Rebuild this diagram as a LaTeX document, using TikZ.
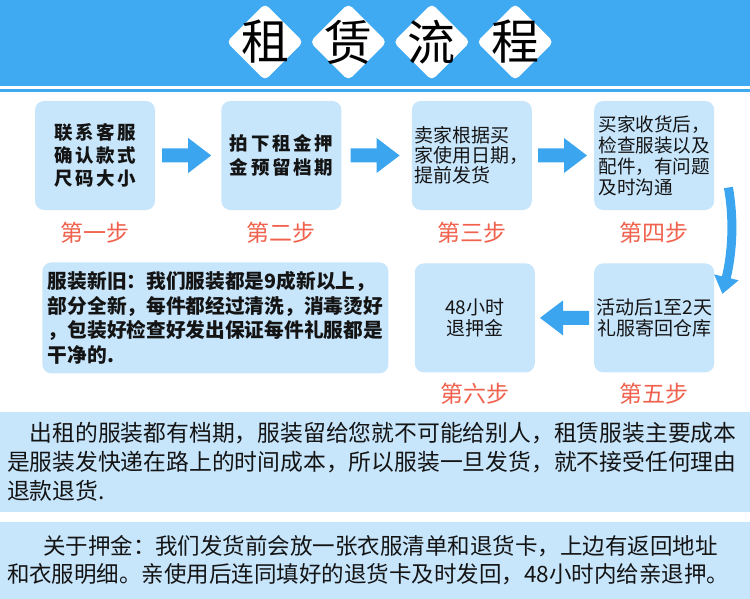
\documentclass[tikz,border=0pt]{standalone}
\usepackage{fontspec}
\setmainfont{Noto Sans CJK SC}
\newfontfamily\cjkwide[LetterSpace=14]{Noto Sans CJK SC}
\usetikzlibrary{positioning,shapes.geometric,calc,arrows.meta}
\definecolor{hdrblue}{HTML}{3FA9F1}
\definecolor{cardbg}{HTML}{C7E5FB}
\definecolor{arrblue}{HTML}{3BA5EF}
\definecolor{stepred}{HTML}{F0624D}
\definecolor{ink}{HTML}{141414}
\tikzset{
  tdiam/.style={diamond,fill=white,rounded corners=5pt,minimum width=77pt,
    minimum height=77pt,inner sep=0pt},
  ttl/.style={font=\fontsize{48}{48}\selectfont,text=black,inner sep=0pt},
  card/.style={rectangle,rounded corners=9pt,fill=cardbg,minimum width=120pt,
    minimum height=109pt,inner sep=0pt,align=center,text=ink,
    font=\fontsize{19}{21}\selectfont},
  stp/.style={font=\fontsize{23}{23}\selectfont,text=stepred,inner sep=0pt},
  panel/.style={rectangle,fill=cardbg,text width=736pt,inner xsep=7pt,
    inner ysep=0pt,align=left,text=ink},
  blockarr/.pic={\fill[arrblue] (0,-7) -- (26,-7) -- (26,-17.5) -- (49,0)
    -- (26,17.5) -- (26,7) -- (0,7) -- cycle;},
  curvearr/.style={line width=9pt,draw=arrblue,-{Triangle[length=17pt,width=24pt]}},
}
\begin{document}
\begin{tikzpicture}[x=1pt,y=-1pt]
  \useasboundingbox (0,0) rectangle (750,599);
  \fill[hdrblue] (0,0) rectangle (750,86);
  \fill[hdrblue] (0,89) rectangle (750,92.5);
  \node[tdiam] (d1) at (265,42) {};
  \node[tdiam,right=6pt of d1] (d2) {};
  \node[tdiam,right=6pt of d2] (d3) {};
  \node[tdiam,right=6pt of d3] (d4) {};
  \node[ttl] (t1) at (d1) {租};
  \node[ttl] (t2) at (d2) {赁};
  \node[ttl] (t3) at (d3) {流};
  \node[ttl] (t4) at (d4) {程};

  \node[card,font=\cjkwide\bfseries\fontsize{18.5}{23}\selectfont] (b1) at (95,155.5)
    {联系客服\\确认款式\\尺码大小};
  \node[card,right=66pt of b1,font=\cjkwide\bfseries\fontsize{18.5}{24}\selectfont] (b2)
    {拍下租金押\\金预留档期};
  \node[card,right=70pt of b2,align=left,font=\fontsize{19}{20}\selectfont] (b3)
    {卖家根据买\\家使用日期，\\提前发货};
  \node[card,right=62pt of b3,align=left,font=\fontsize{18.6}{21}\selectfont] (b4)
    {买家收货后，\\检查服装以及\\配件，有问题\\及时沟通};
  \node[card,below=53pt of b4] (b5) {活动后1至2天\\礼服寄回仓库};
  \node[card,left=59pt of b5] (b6) {48小时\\退押金};
  \node[card,left=26pt of b6,minimum width=346pt,minimum height=111pt,align=left,
    font=\bfseries\fontsize{19.7}{24.5}\selectfont] (note)
    {服装新旧：我们服装都是9成新以上，\\部分全新，每件都经过清洗，消毒烫好\\，包装好检查好发出保证每件礼服都是\\干净的.};

  \node[stp,below=12pt of b1] (s1) {第一步};
  \node[stp,below=12pt of b2] (s2) {第二步};
  \node[stp,below=12pt of b3] (s3) {第三步};
  \node[stp,below=12pt of b4] (s4) {第四步};
  \node[stp,below=10pt of b5] (s5) {第五步};
  \node[stp,below=10pt of b6] (s6) {第六步};

  \pic at ($(b1.east)+(7,0)$) {blockarr};
  \pic at ($(b2.east)+(9,0)$) {blockarr};
  \pic at ($(b3.east)+(6,0)$) {blockarr};
  \pic[xscale=-1] at ($(b5.west)+(-5,0)$) {blockarr};
  \draw[curvearr] ($(b4.east)+(14,32)$) .. controls ($(b4.east)+(19,60)$)
    and ($(b5.east)+(19,-70)$) .. ($(b5.east)+(8,-24)$);

  \node[panel,minimum height=100pt,font=\fontsize{22.8}{29}\selectfont] (pa) at (375,462)
    {\hspace*{1em}出租的服装都有档期，服装留给您就不可能给别人，租赁服装主要成本\\是服装发快递在路上的时间成本，所以服装一旦发货，就不接受任何理由\\退款退货.};
  \node[panel,minimum height=77pt,font=\fontsize{22.5}{28}\selectfont] (pb) at (375,560.5)
    {\hspace*{1.6em}关于押金：我们发货前会放一张衣服清单和退货卡，上边有返回地址\\和衣服明细。亲使用后连同填好的退货卡及时发回，48小时内给亲退押。};
\end{tikzpicture}
\end{document}
